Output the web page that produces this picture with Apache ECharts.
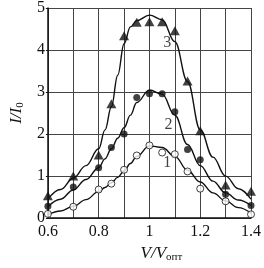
<!DOCTYPE html>
<html>
<head>
<meta charset="utf-8">
<script src="https://cdn.jsdelivr.net/npm/echarts@6/dist/echarts.min.js"></script>
<style>
html, body { margin: 0; padding: 0; background: #fff; }
#chart { width: 264px; height: 268px; }
</style>
</head>
<body>
<div id="chart"></div>
<script>
// measured points
var ptX = [0.6, 0.7, 0.8, 0.85, 0.9, 0.95, 1.0, 1.05, 1.1, 1.15, 1.2, 1.3, 1.4];
var pts1 = [0.1, 0.27, 0.68, 0.82, 1.15, 1.49, 1.73, 1.56, 1.52, 1.11, 0.7, 0.4, 0.09];
var pts2 = [0.28, 0.74, 1.2, 1.68, 2.0, 2.87, 2.96, 2.96, 2.53, 1.63, 1.39, 0.57, 0.3];
var pts3 = [0.53, 1.0, 1.5, 2.72, 4.34, 4.66, 4.67, 4.67, 4.46, 3.26, 2.08, 0.79, 0.64];

// fitted curves
var curveX = [0.6, 0.65, 0.7, 0.75, 0.8, 0.825, 0.85, 0.875, 0.9, 0.925, 0.95, 1.0, 1.05, 1.1, 1.15, 1.2, 1.25, 1.3, 1.35, 1.4];
var curve1 = [0.08, 0.17, 0.28, 0.44, 0.63, 0.73, 0.84, 0.97, 1.12, 1.3, 1.47, 1.72, 1.68, 1.47, 1.14, 0.86, 0.6, 0.41, 0.25, 0.12];
var curve2 = [0.27, 0.45, 0.67, 0.92, 1.2, 1.41, 1.65, 1.9, 2.15, 2.45, 2.75, 3.05, 2.95, 2.45, 1.75, 1.25, 0.88, 0.6, 0.43, 0.3];
var curve3 = [0.45, 0.68, 0.95, 1.25, 1.65, 2.1, 2.65, 3.4, 4.15, 4.55, 4.7, 4.83, 4.72, 4.2, 3.25, 2.1, 1.45, 1.0, 0.7, 0.45];

var curveNames = ['1', '2', '3'];
var namePos = [[1.07, 1.31], [1.075, 2.21], [1.07, 4.17]];

var xTicks = ['0.6', '0.8', '1', '1.2', '1.4'];

function pairs(xs, ys) {
	return xs.map(function (x, i) { return [x, ys[i]]; });
}

var font = 'Liberation Serif';

var chart = echarts.init(document.getElementById('chart'), null, { renderer: 'canvas' });

var lineBase = {
	type: 'line',
	smooth: 0.4,
	smoothMonotone: 'x',
	showSymbol: false,
	lineStyle: { color: '#111', width: 1.4 },
	silent: true,
	z: 2
};

var option = {
	animation: false,
	backgroundColor: '#fff',
	grid: { left: 34, right: 11, top: 6, bottom: 44 },
	xAxis: {
		type: 'value',
		min: 0.6,
		max: 1.4,
		interval: 0.1,
		name: '{i|V/V}{s|опт}',
		nameLocation: 'middle',
		nameGap: 21,
		nameTextStyle: {
			padding: [0, 0, 0, 24],
			rich: {
				i: { fontFamily: font, fontStyle: 'italic', fontSize: 17, color: '#111' },
				s: { fontFamily: font, fontSize: 11, color: '#111', padding: [8, 0, 0, 0] }
			}
		},
		axisLine: { lineStyle: { color: '#111', width: 1.5 } },
		axisTick: { show: false },
		axisLabel: {
			margin: 6,
			fontFamily: font,
			fontSize: 16,
			color: '#111',
			formatter: function (v) {
				var s = String(Math.round(v * 10) / 10);
				return xTicks.indexOf(s) >= 0 ? s : '';
			}
		},
		splitLine: { show: true, lineStyle: { color: '#444', width: 1 } }
	},
	yAxis: {
		type: 'value',
		min: 0,
		max: 5,
		interval: 1,
		name: '{i|I/I}{s|0}',
		nameLocation: 'middle',
		nameRotate: 90,
		nameGap: 19,
		nameTextStyle: {
			rich: {
				i: { fontFamily: font, fontStyle: 'italic', fontSize: 17, color: '#111' },
				s: { fontFamily: font, fontSize: 11, color: '#111', padding: [8, 0, 0, 0] }
			}
		},
		axisLine: { show: true, lineStyle: { color: '#111', width: 1.5 } },
		axisTick: { show: true, length: 2, lineStyle: { color: '#111' } },
		axisLabel: { margin: 3, fontFamily: font, fontSize: 16, color: '#111' },
		splitLine: { show: true, lineStyle: { color: '#444', width: 1 } }
	},
	series: [
		Object.assign({ data: pairs(curveX, curve1) }, lineBase),
		Object.assign({ data: pairs(curveX, curve2) }, lineBase),
		Object.assign({ data: pairs(curveX, curve3) }, lineBase),
		{
			type: 'scatter',
			data: pairs(ptX, pts1),
			symbol: 'circle',
			symbolSize: 7,
			itemStyle: { color: '#fff', borderColor: '#111', borderWidth: 1 },
			z: 3
		},
		{
			type: 'scatter',
			data: pairs(ptX, pts2),
			symbol: 'circle',
			symbolSize: 7,
			itemStyle: { color: '#111' },
			z: 3
		},
		{
			type: 'scatter',
			data: pairs(ptX, pts3),
			symbol: 'triangle',
			symbolSize: [10, 9],
			itemStyle: { color: '#111' },
			z: 3
		},
		{
			type: 'scatter',
			symbolSize: 0,
			data: namePos.map(function (p, i) { return { value: p, name: curveNames[i] }; }),
			label: {
				show: true,
				position: 'inside',
				formatter: '{b}',
				fontFamily: font,
				fontSize: 16,
				color: '#111'
			},
			z: 4
		}
	]
};

chart.setOption(option);
</script>
</body>
</html>
